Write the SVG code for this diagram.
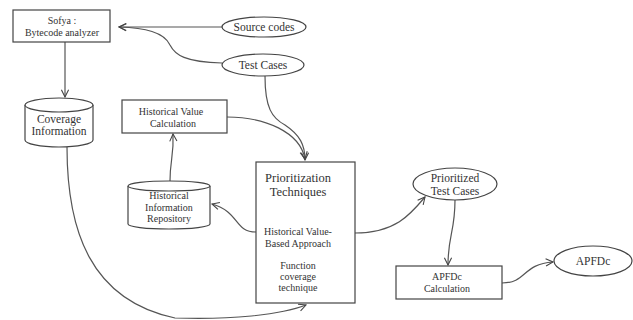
<svg xmlns="http://www.w3.org/2000/svg" width="633" height="320" viewBox="0 0 633 320">
<style>
.box{fill:#fff;stroke:#444;stroke-width:1.2}
.c{fill:none;stroke:#555;stroke-width:1.2;marker-end:url(#ah)}
text{font-family:'Liberation Serif','DejaVu Serif','Times New Roman',serif;fill:#333;text-anchor:middle;font-size:10px}
.big{font-size:12.5px}
.m{font-size:11.5px}
</style>
<defs>
<marker id="ah" viewBox="0 0 10 10" refX="9" refY="5" markerWidth="9" markerHeight="9" orient="auto" markerUnits="userSpaceOnUse">
<path d="M1,1 L9,5 L1,9" fill="none" stroke="#444" stroke-width="1.2"/>
</marker>
</defs>
<rect width="633" height="320" fill="#fff"/>
<g id="connectors">
<path class="c" d="M222,27 L119,27"/>
<path class="c" d="M222,63 C185,62 175,55 170,45 C164,32 145,28 119,27"/>
<path class="c" d="M65,42 L65,97"/>
<path class="c" d="M265,76 C265,108 272,118 285,125 C300,135 305,145 305,160"/>
<path class="c" d="M227,117 C265,117 300,132 305,159"/>
<path class="c" d="M170,181 C170,160 174,155 173,134"/>
<path class="c" d="M256,232 C234,232 240,212 212,204"/>
<path class="c" d="M67,147 C67,230 90,300 175,318 C230,320 280,315 306,305"/>
<path class="c" d="M355,233 C395,233 410,215 425,197"/>
<path class="c" d="M455,200 C455,232 448,235 448,265"/>
<path class="c" d="M502,283 C527,283 522,264 553,262"/>
</g>
<g id="sofya">
<rect class="box" x="13" y="10" width="97" height="32"/>
<text x="62" y="24">Sofya :</text>
<text x="62" y="36">Bytecode analyzer</text>
</g>
<g id="source-codes">
<ellipse class="box" cx="264" cy="27" rx="42" ry="10"/>
<text class="m" x="264" y="31">Source codes</text>
</g>
<g id="test-cases">
<ellipse class="box" cx="263" cy="65" rx="41" ry="11"/>
<text class="m" x="263" y="69">Test Cases</text>
</g>
<g id="coverage-info">
<path class="box" d="M25,105 L25,140 A34,7 0 0 0 93,140 L93,105"/>
<ellipse class="box" cx="59" cy="105" rx="34" ry="7"/>
<text class="m" x="59" y="123">Coverage</text>
<text class="m" x="59" y="135">Information</text>
</g>
<g id="hist-value-calc">
<rect class="box" x="122" y="100" width="105" height="33"/>
<text x="171" y="115">Historical Value</text>
<text x="173" y="127">Calculation</text>
</g>
<g id="hist-info-repo">
<path class="box" d="M128,186 L128,224 A41,5 0 0 0 210,224 L210,186"/>
<ellipse class="box" cx="169" cy="186" rx="41" ry="5"/>
<text x="169" y="199">Historical</text>
<text x="169" y="211">Information</text>
<text x="169" y="222">Repository</text>
</g>
<g id="prioritization">
<rect class="box" x="256" y="162" width="99" height="141"/>
<text class="big" x="298" y="182">Prioritization</text>
<text class="big" x="298" y="196">Techniques</text>
<text x="298" y="235">Historical Value-</text>
<text x="298" y="247">Based Approach</text>
<text x="298" y="269">Function</text>
<text x="298" y="280">coverage</text>
<text x="298" y="291">technique</text>
</g>
<g id="prioritized-test-cases">
<ellipse class="box" cx="455" cy="184" rx="42" ry="16"/>
<text class="m" x="455" y="182">Prioritized</text>
<text class="m" x="455" y="195">Test Cases</text>
</g>
<g id="apfdc-calc">
<rect class="box" x="396" y="266" width="106" height="33"/>
<text x="447" y="280">APFDc</text>
<text x="447" y="292">Calculation</text>
</g>
<g id="apfdc">
<ellipse class="box" cx="593" cy="261" rx="39" ry="15"/>
<text class="m" x="593" y="265">APFDc</text>
</g>
</svg>
